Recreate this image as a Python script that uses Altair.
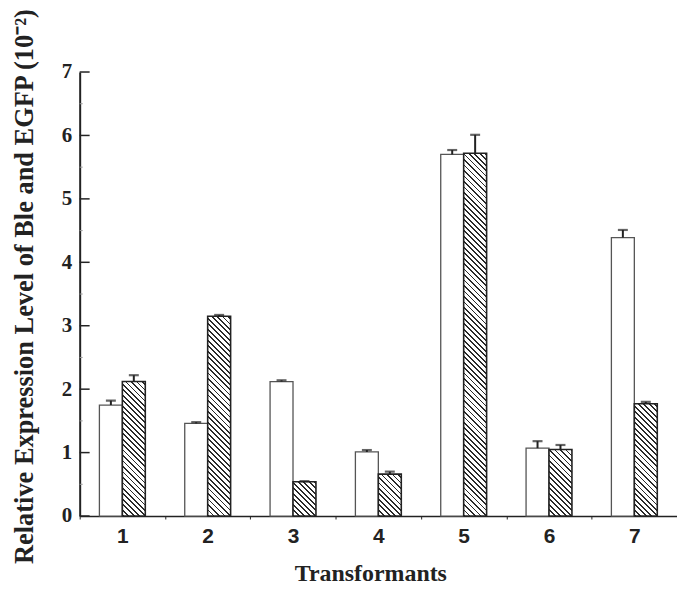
import altair as alt
import pandas as pd

# ---- data ----
groups = ["1", "2", "3", "4", "5", "6", "7"]
series = ["Ble", "EGFP"]
ble = [1.75, 1.46, 2.12, 1.01, 5.70, 1.07, 4.39]
ble_err = [0.07, 0.02, 0.02, 0.03, 0.07, 0.11, 0.12]
egfp = [2.12, 3.15, 0.54, 0.66, 5.72, 1.05, 1.77]
egfp_err = [0.10, 0.02, 0.01, 0.04, 0.29, 0.07, 0.03]
y_major = [0, 1, 2, 3, 4, 5, 6, 7]
y_minor = [0.5, 1.5, 2.5, 3.5, 4.5, 5.5, 6.5]

# ---- layout / style ----
W, H = 600, 446
YMAX = 7
XO_PAD = 0.86
INK = "#222222"

rows = []
for g, v, e in zip(groups, ble, ble_err):
    rows.append({"group": g, "series": "Ble", "value": v, "err": e, "top": v + e})
for g, v, e in zip(groups, egfp, egfp_err):
    rows.append({"group": g, "series": "EGFP", "value": v, "err": e, "top": v + e})
df = pd.DataFrame(rows)

major_df = pd.DataFrame({"tick": y_major})
minor_df = pd.DataFrame({"tick": y_minor})

y_scale = alt.Scale(domain=[0, YMAX], nice=False, zero=True)
x_scale = alt.Scale(domain=groups, paddingInner=0, paddingOuter=0)
xo_scale = alt.Scale(domain=series, paddingInner=0, paddingOuter=XO_PAD)

x_axis = alt.Axis(
    title="Transformants", labelAngle=0, tickBand="extent", tickSize=3,
    tickColor=INK, domainColor=INK, domainWidth=1.5, grid=False,
    labelFont="Liberation Sans", labelFontWeight="bold", labelFontSize=21,
    labelColor=INK, labelPadding=7,
    titleFont="Liberation Serif", titleFontWeight="bold", titleFontSize=24,
    titleColor=INK, titleX=292, titleY=65, titleAlign="center",
    titleBaseline="alphabetic",
)
y_axis = alt.Axis(
    title="Relative Expression Level of Ble and EGFP (10\u207b\u00b2)",
    values=y_major, format="d", ticks=False, grid=False, domainColor=INK, domainWidth=2,
    labelFont="Liberation Serif", labelFontWeight="bold", labelFontSize=21,
    labelColor=INK, labelPadding=8,
    titleFont="Liberation Serif", titleFontWeight="bold", titleFontSize=26.5,
    titleColor=INK, titleAngle=270, titleX=-47, titleY=215,
    titleAlign="center", titleBaseline="alphabetic",
)

x_enc = alt.X("group:N", scale=x_scale, axis=x_axis)
xo_enc = alt.XOffset("series:N", scale=xo_scale)


def hatch(w, h, period=5.5, lw=1.8, ink="#2a2a2a"):
    """Diagonal '\\' hatch as a hard-stop linear gradient in the bar's bbox."""
    L = w + h
    s = L / (w * w + h * h)
    stops = []
    pos = 0.0
    while pos < L:
        a = pos / L
        b = min((pos + lw) / L, 1.0)
        stops += [
            alt.GradientStop(color="white", offset=a),
            alt.GradientStop(color=ink, offset=a),
            alt.GradientStop(color=ink, offset=b),
            alt.GradientStop(color="white", offset=b),
        ]
        pos += period
    return alt.LinearGradient(gradient="linear", stops=stops,
                              x1=0, y1=1, x2=w * s, y2=1 - h * s)


bar_w = (W / len(groups)) / (2 + 2 * XO_PAD)

open_bars = alt.Chart(df[df.series == "Ble"]).mark_bar(
    fill="white", stroke="#555555", strokeWidth=1.3
).encode(
    x=x_enc, xOffset=xo_enc,
    y=alt.Y("value:Q", scale=y_scale, axis=y_axis),
)

layers = [open_bars]
for i, g in enumerate(groups):
    sub = df[(df.series == "EGFP") & (df.group == g)]
    h = egfp[i] / YMAX * H
    layers.append(
        alt.Chart(sub).mark_bar(fill=hatch(bar_w, h), stroke=INK, strokeWidth=1.6).encode(
            x=x_enc, xOffset=xo_enc,
            y=alt.Y("value:Q", scale=y_scale),
        )
    )

err_rules = alt.Chart(df).mark_rule(color=INK, strokeWidth=2).encode(
    x=x_enc, xOffset=xo_enc,
    y=alt.Y("value:Q", scale=y_scale), y2="top:Q",
)
caps = alt.Chart(df).mark_tick(color=INK, thickness=2.2, size=10, orient="horizontal").encode(
    x=x_enc, xOffset=xo_enc,
    y=alt.Y("top:Q", scale=y_scale),
)
y_ticks_major = alt.Chart(major_df).mark_rule(color=INK, strokeWidth=1.5).encode(
    y=alt.Y("tick:Q", scale=y_scale), x=alt.value(0), x2=alt.value(10),
)
y_ticks_minor = alt.Chart(minor_df).mark_rule(color="#999999", strokeWidth=1).encode(
    y=alt.Y("tick:Q", scale=y_scale), x=alt.value(0), x2=alt.value(3),
)

layers += [err_rules, caps, y_ticks_major, y_ticks_minor]

chart = alt.layer(*layers).properties(
    width=W, height=H,
    padding={"left": 72, "top": 63, "right": 0, "bottom": 72},
    autosize=alt.AutoSizeParams(type="none"),
    background="white",
).configure_view(stroke=None)

chart.save("out.html", embed_options={"renderer": "svg", "actions": False})
